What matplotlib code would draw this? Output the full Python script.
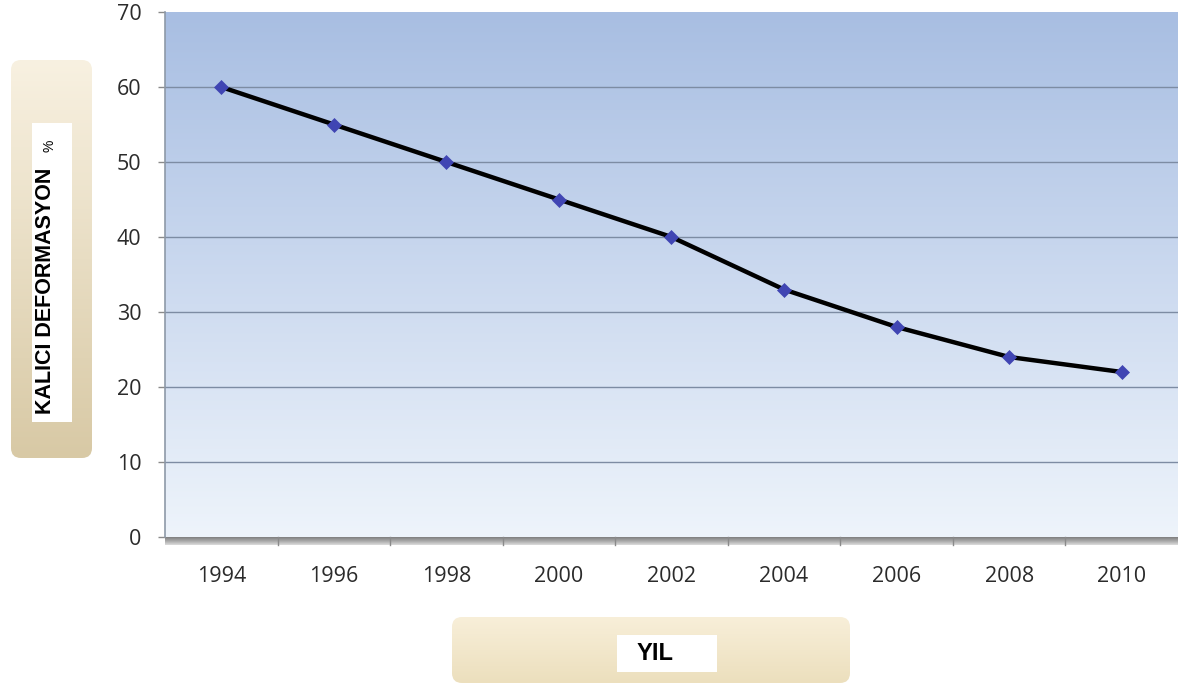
import numpy as np
import matplotlib
matplotlib.use('Agg')
import matplotlib.pyplot as plt
from matplotlib.colors import LinearSegmentedColormap
from matplotlib.patches import FancyBboxPatch, Rectangle

# data
years = ['1994', '1996', '1998', '2000', '2002', '2004', '2006', '2008', '2010']
deformation = [60, 55, 50, 45, 40, 33, 28, 24, 22]
y_ticks = [0, 10, 20, 30, 40, 50, 60, 70]

W, H = 1181, 686
fig = plt.figure(figsize=(W / 100, H / 100), dpi=100)

def px_box(x0, y0, x1, y1):
    # pixel box measured from the top-left corner -> figure fraction rect
    return [x0 / W, 1 - y1 / H, (x1 - x0) / W, (y1 - y0) / H]

tick_font = dict(family=['Open Sans', 'DejaVu Sans'], size=15.5, color='#2b2b2b')
label_font = ['Liberation Sans', 'DejaVu Sans']

# background layer for the label boxes
deco = fig.add_axes([0, 0, 1, 1], zorder=0)
deco.axis('off')

def gradient_box(x0, y0, x1, y1, top, bottom, radius=10):
    box = FancyBboxPatch((x0, y0), x1 - x0, y1 - y0,
                         boxstyle=f'round,pad=0,rounding_size={radius}',
                         fc='none', ec='none')
    deco.add_patch(box)
    cmap = LinearSegmentedColormap.from_list('g', [top, bottom])
    grad = np.linspace(0, 1, 256).reshape(-1, 1)
    im = deco.imshow(grad, extent=(x0, x1, y1, y0), origin='upper',
                     cmap=cmap, aspect='auto', interpolation='bicubic')
    im.set_clip_path(box)

# y label box
gradient_box(11, 60, 92, 458, '#f8f1e1', '#d8c9a5')
deco.add_patch(Rectangle((32, 123), 40, 299, fc='white', ec='none'))
deco.text(46, 291, 'KALICI DEFORMASYON', rotation=90, ha='center', va='center',
          family=label_font, weight='bold', size=15.5, color='black')
deco.text(50, 146, '%', rotation=90, ha='center', va='center',
          family=label_font, size=10, color='black')

# x label box
gradient_box(452, 617, 850, 683, '#f8efd9', '#ecdfbd')
deco.add_patch(Rectangle((617, 635), 100, 37, fc='white', ec='none'))
deco.text(655, 654, 'YIL', ha='center', va='center',
          family=label_font, weight='bold', size=17, color='black')

deco.set_xlim(0, W)
deco.set_ylim(H, 0)

# plot area
ax = fig.add_axes(px_box(165, 12, 1178, 537), zorder=1)
x = np.arange(len(years))

bg = LinearSegmentedColormap.from_list('bg', ['#a8bee2', '#cbd9ef', '#eef4fb'])
ax.imshow(np.linspace(0, 1, 256).reshape(-1, 1), extent=(0, 1, 0, 1),
          transform=ax.transAxes, cmap=bg, aspect='auto', zorder=0,
          interpolation='bicubic')

for v in y_ticks[1:-1]:
    ax.axhline(v, color='#7d8ca3', lw=1, zorder=1)

ax.plot(x, deformation, color='black', lw=3.2, zorder=3,
        solid_capstyle='round', solid_joinstyle='round')
ax.plot(x, deformation, ls='none', marker='D', ms=7.5, mfc='#4045b3',
        mec='#4045b3', mew=0.5, zorder=4)

ax.set_xlim(-0.5, len(years) - 0.5)
ax.set_ylim(0, 70)

# 3d-ish floor under the plot
floor = LinearSegmentedColormap.from_list('fl', ['#7f7f7f', '#a9a9a9', '#dcdcdc'])
ax.imshow(np.linspace(0, 1, 64).reshape(-1, 1), extent=(0, 1, -8 / 525, 0),
          transform=ax.transAxes, cmap=floor, aspect='auto', zorder=2,
          clip_on=False)
for b in np.arange(0.5, len(years) - 1, 1):
    ax.plot([b, b], [0, -1.05], color='#8a8a8a', lw=1, clip_on=False, zorder=3)

ax.set_xticks(x)
ax.set_xticklabels(years, **tick_font)
ax.tick_params(axis='x', length=0, pad=21)
ax.set_yticks(y_ticks)
ax.set_yticklabels([str(v) for v in y_ticks], **tick_font)
ax.tick_params(axis='y', length=5, width=1, color='#8a8a8a', pad=12)

for side in ['top', 'right', 'bottom']:
    ax.spines[side].set_visible(False)
ax.spines['left'].set_color('#8e99a8')
ax.spines['left'].set_linewidth(1.2)

fig.savefig('out.png', dpi=100)
